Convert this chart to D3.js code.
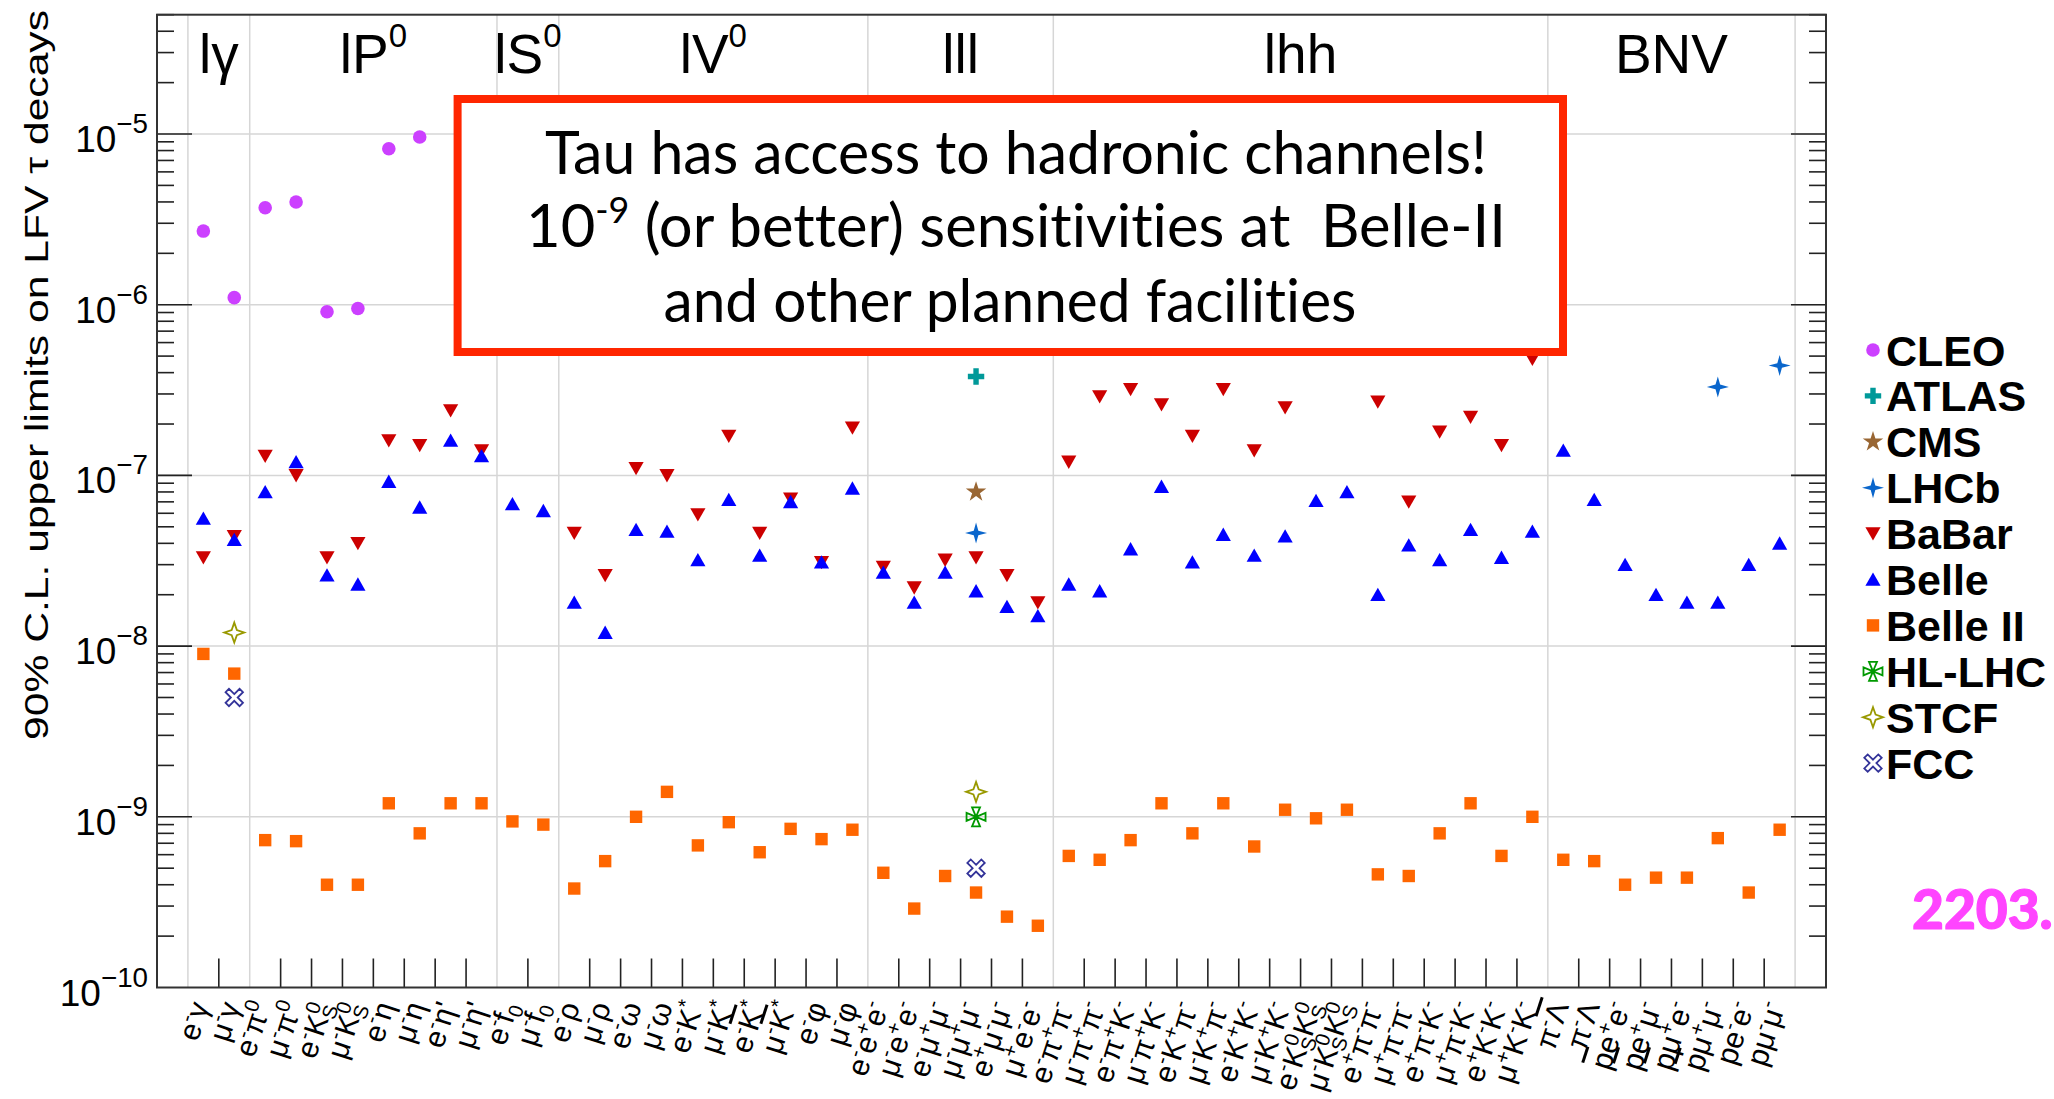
<!DOCTYPE html>
<html>
<head>
<meta charset="utf-8">
<script src="https://cdn.jsdelivr.net/npm/d3@7"></script>
<style>
  html, body { margin: 0; padding: 0; background: #fff; overflow: hidden; }
  svg { display: block; }
</style>
</head>
<body>
<svg id="chart" width="2054" height="1099"></svg>
<script>
// ---- Channels (x categories), written in a small TLatex-like markup ----
const channels = [
  "e^{-}γ", "μ^{-}γ",
  "e^{-}π^{0}", "μ^{-}π^{0}", "e^{-}K^{0}_{S}", "μ^{-}K^{0}_{S}", "e^{-}η", "μ^{-}η", "e^{-}η'", "μ^{-}η'",
  "e^{-}f_{0}", "μ^{-}f_{0}",
  "e^{-}ρ", "μ^{-}ρ", "e^{-}ω", "μ^{-}ω", "e^{-}K^{*}", "μ^{-}K^{*}", "e^{-}#bar{K}^{*}", "μ^{-}#bar{K}^{*}", "e^{-}φ", "μ^{-}φ",
  "e^{-}e^{+}e^{-}", "μ^{-}e^{+}e^{-}", "e^{-}μ^{+}μ^{-}", "μ^{-}μ^{+}μ^{-}", "e^{+}μ^{-}μ^{-}", "μ^{+}e^{-}e^{-}",
  "e^{-}π^{+}π^{-}", "μ^{-}π^{+}π^{-}", "e^{-}π^{+}K^{-}", "μ^{-}π^{+}K^{-}", "e^{-}K^{+}π^{-}", "μ^{-}K^{+}π^{-}",
  "e^{-}K^{+}K^{-}", "μ^{-}K^{+}K^{-}", "e^{-}K^{0}_{S}K^{0}_{S}", "μ^{-}K^{0}_{S}K^{0}_{S}",
  "e^{+}π^{-}π^{-}", "μ^{+}π^{-}π^{-}", "e^{+}π^{-}K^{-}", "μ^{+}π^{-}K^{-}", "e^{+}K^{-}K^{-}", "μ^{+}K^{-}K^{-}",
  "π^{-}#bar{Λ}", "π^{-}Λ", "#bar{p}e^{+}e^{-}", "#bar{p}e^{+}μ^{-}", "#bar{p}μ^{+}e^{-}", "#bar{p}μ^{+}μ^{-}",
  "pe^{-}e^{-}", "pμ^{-}μ^{-}"
];

// Channel groups, in order, with the number of channels in each
const groupNames  = ["lγ", "lP^{0}", "lS^{0}", "lV^{0}", "lll", "lhh", "BNV"];
const groupSizes  = [2, 8, 2, 10, 6, 16, 8];

// ---- 90% C.L. upper limits, one entry per channel (null = no result) ----
const cleo = [2.7e-6, 1.1e-6, 3.7e-6, 4.0e-6, 9.1e-7, 9.5e-7, 8.2e-6, 9.6e-6,
  null, null, null, null, null, null, null, null, null, null, null, null, null, null,
  null, null, null, null, null, null, null, null, null, null, null, null, null, null,
  null, null, null, null, null, null, null, null, null, null, null, null, null, null, null, null];

const babar = [3.3e-8, 4.4e-8, 1.3e-7, 1.0e-7, 3.3e-8, 4.0e-8, 1.6e-7, 1.5e-7, 2.4e-7, 1.4e-7,
  null, null,
  4.6e-8, 2.6e-8, 1.1e-7, 1.0e-7, 5.9e-8, 1.7e-7, 4.6e-8, 7.3e-8, 3.1e-8, 1.9e-7,
  2.9e-8, 2.2e-8, 3.2e-8, 3.3e-8, 2.6e-8, 1.8e-8,
  1.2e-7, 2.9e-7, 3.2e-7, 2.6e-7, 1.7e-7, 3.2e-7, 1.4e-7, 2.5e-7, null, null,
  2.7e-7, 7.0e-8, 1.8e-7, 2.2e-7, 1.5e-7, 4.8e-7,
  null, null, null, null, null, null, null, null];

const belle = [5.6e-8, 4.2e-8, 8.0e-8, 1.2e-7, 2.6e-8, 2.3e-8, 9.2e-8, 6.5e-8, 1.6e-7, 1.3e-7,
  6.8e-8, 6.2e-8,
  1.8e-8, 1.2e-8, 4.8e-8, 4.7e-8, 3.2e-8, 7.2e-8, 3.4e-8, 7.0e-8, 3.1e-8, 8.4e-8,
  2.7e-8, 1.8e-8, 2.7e-8, 2.1e-8, 1.7e-8, 1.5e-8,
  2.3e-8, 2.1e-8, 3.7e-8, 8.6e-8, 3.1e-8, 4.5e-8, 3.4e-8, 4.4e-8, 7.1e-8, 8.0e-8,
  2.0e-8, 3.9e-8, 3.2e-8, 4.8e-8, 3.3e-8, 4.7e-8,
  1.4e-7, 7.2e-8, 3.0e-8, 2.0e-8, 1.8e-8, 1.8e-8, 3.0e-8, 4.0e-8];

const belle2 = [9.0e-9, 6.9e-9, 7.3e-10, 7.2e-10, 4.0e-10, 4.0e-10, 1.2e-9, 8.0e-10, 1.2e-9, 1.2e-9,
  9.4e-10, 9.0e-10,
  3.8e-10, 5.5e-10, 1.0e-9, 1.4e-9, 6.8e-10, 9.3e-10, 6.2e-10, 8.5e-10, 7.4e-10, 8.4e-10,
  4.7e-10, 2.9e-10, 4.5e-10, 3.6e-10, 2.6e-10, 2.3e-10,
  5.9e-10, 5.6e-10, 7.3e-10, 1.2e-9, 8.0e-10, 1.2e-9, 6.7e-10, 1.1e-9, 9.8e-10, 1.1e-9,
  4.6e-10, 4.5e-10, 8.0e-10, 1.2e-9, 5.9e-10, 1.0e-9,
  5.6e-10, 5.5e-10, 4.0e-10, 4.4e-10, 4.4e-10, 7.5e-10, 3.6e-10, 8.4e-10];

// Sparse results: [channel, limit]
const atlas = [["μ^{-}μ^{+}μ^{-}", 3.8e-7]];
const cms   = [["μ^{-}μ^{+}μ^{-}", 8.0e-8]];
const lhcb  = [["μ^{-}μ^{+}μ^{-}", 4.6e-8], ["#bar{p}μ^{+}μ^{-}", 3.3e-7], ["pμ^{-}μ^{-}", 4.4e-7]];
const hllhc = [["μ^{-}μ^{+}μ^{-}", 1.0e-9]];
const stcf  = [["μ^{-}γ", 1.2e-8], ["μ^{-}μ^{+}μ^{-}", 1.4e-9]];
const fcc   = [["μ^{-}γ", 5.0e-9], ["μ^{-}μ^{+}μ^{-}", 5.0e-10]];

// Y axis decades with labels
const yDecades = [-10, -9, -8, -7, -6, -5];

// Legend entries (name, marker, colour)
const legendNames   = ["CLEO", "ATLAS", "CMS", "LHCb", "BaBar", "Belle", "Belle II", "HL-LHC", "STCF", "FCC"];
const legendMarkers = ["circle", "plus", "star5", "star4", "triDown", "triUp", "square", "fourTri", "openStar4", "openX"];
const legendColors  = ["#cc40ff", "#009999", "#996633", "#0a66cc", "#cc0000", "#0000ff", "#ff6600", "#009900", "#999900", "#333399"];

// Message box lines
const boxLines = ["Tau has access to hadronic channels!", "10^{-9} (or better) sensitivities at  Belle-II", "and other planned facilities"];

// ---------------------------------------------------------------------------
const svg = d3.select("#chart");
const frame = { left: 157, right: 1826, top: 14.7, bottom: 987.5 };
const rootFont = "'Liberation Sans', Arial, Helvetica, sans-serif";

const x = d3.scaleBand().domain(channels).range([frame.left, frame.right]).paddingInner(0).paddingOuter(1);
const bw = x.bandwidth();
const cx = ch => x(ch) + bw / 2;
const y = d3.scaleLog().domain([1e-10, 5e-5]).range([frame.bottom, frame.top]);

// ---- tiny rich-text renderer: ^{sup}, _{sub}, #bar{x} ----
function parseRich(s) {
  const segs = []; let buf = ""; let i = 0;
  const flush = () => { if (buf) { segs.push({ text: buf, mode: "n" }); buf = ""; } };
  while (i < s.length) {
    const c = s[i];
    if ((c === "^" || c === "_") && s[i + 1] === "{") {
      flush();
      const j = s.indexOf("}", i);
      segs.push({ text: s.slice(i + 2, j), mode: c === "^" ? "sup" : "sub" });
      i = j + 1;
    } else if (s.startsWith("#bar{", i)) {
      flush();
      const j = s.indexOf("}", i);
      segs.push({ text: s.slice(i + 5, j), mode: "n", bar: true });
      i = j + 1;
    } else { buf += c; i++; }
  }
  flush();
  return segs;
}
function richText(textSel, s, fs, opt = {}) {
  const supScale = opt.supScale || 0.65;
  const supRise = opt.supRise != null ? opt.supRise : 0.42 * fs;
  const subDrop = opt.subDrop != null ? opt.subDrop : 0.22 * fs;
  const segs = parseRich(s);
  let cur = 0;
  segs.forEach((g, k) => {
    const target = g.mode === "sup" ? -supRise : g.mode === "sub" ? subDrop : 0;
    const t = textSel.append("tspan")
      .text(g.text)
      .attr("dy", target - cur)
      .attr("font-size", g.mode === "n" ? fs : fs * supScale);
    if (g.bar) t.style("text-decoration", "overline");
    if (g.mode === "sub" && k > 0 && segs[k - 1].mode === "sup") {
      t.attr("dx", -segs[k - 1].text.length * fs * supScale * 0.56);
    }
    cur = target;
  });
}

// ---- marker shapes ----
function fourTriPath(r, h) {
  return `M0,0L${-h},${-r}L${h},${-r}Z M0,0L${r},${-h}L${r},${h}Z M0,0L${h},${r}L${-h},${r}Z M0,0L${-r},${h}L${-r},${-h}Z`;
}
const markerPaths = {
  circle: d3.symbol(d3.symbolCircle, 145)(),
  plus: "M-2.7,-8.2H2.7V-2.7H8.2V2.7H2.7V8.2H-2.7V2.7H-8.2V-2.7H-2.7Z",
  star5: d3.symbol(d3.symbolStar, 130)(),
  star4: "M0,-10.5L2.3,-2.3L11,0L2.3,2.3L0,10.5L-2.3,2.3L-11,0L-2.3,-2.3Z",
  triDown: "M0,7L7.6,-6.3L-7.6,-6.3Z",
  triUp: "M0,-7L7.6,6.3L-7.6,6.3Z",
  square: "M-6.2,-6.2H6.2V6.2H-6.2Z",
  fourTri: fourTriPath(9.5, 4),
  openStar4: "M0,-10L2.6,-2.6L10,0L2.6,2.6L0,10L-2.6,2.6L-10,0L-2.6,-2.6Z",
  openX: "M0,-3.4L5.3,-8.7L8.7,-5.3L3.4,0L8.7,5.3L5.3,8.7L0,3.4L-5.3,8.7L-8.7,5.3L-3.4,0L-8.7,-5.3L-5.3,-8.7Z"
};
const openMarkers = new Set(["fourTri", "openStar4", "openX"]);
function drawMarker(g, type, color, px, py) {
  const p = g.append("path").attr("d", markerPaths[type]).attr("transform", `translate(${px},${py})`);
  if (openMarkers.has(type)) p.attr("fill", "none").attr("stroke", color).attr("stroke-width", 1.8).attr("stroke-linejoin", "miter");
  else p.attr("fill", color);
  return p;
}

// ---- grid ----
const grid = svg.append("g").attr("stroke", "#d6d6d6").attr("stroke-width", 1.5);
yDecades.filter(d => d > -10).forEach(d => {
  grid.append("line").attr("x1", frame.left).attr("x2", frame.right)
    .attr("y1", y(Math.pow(10, d))).attr("y2", y(Math.pow(10, d)));
});
// group separators
const groupEdges = [];
let acc = 0;
groupEdges.push(acc);
groupSizes.forEach(n => { acc += n; groupEdges.push(acc); });
const edgeX = idx => idx < channels.length ? x(channels[idx]) : x(channels[channels.length - 1]) + bw;
groupEdges.forEach(idx => {
  grid.append("line").attr("x1", edgeX(idx)).attr("x2", edgeX(idx))
    .attr("y1", frame.top).attr("y2", frame.bottom);
});

// ---- x ticks at bin edges ----
const ticks = svg.append("g").attr("stroke", "#222").attr("stroke-width", 1.6);
for (let i = 0; i <= channels.length; i++) {
  if (groupEdges.includes(i)) continue;
  const xe = edgeX(i);
  ticks.append("line").attr("x1", xe).attr("x2", xe).attr("y1", frame.bottom).attr("y2", frame.bottom - 29);
}
// ---- y ticks on both sides ----
yDecades.forEach(d => {
  for (let k = 1; k <= 9; k++) {
    const v = k * Math.pow(10, d);
    if (v <= 1e-10 || v > 5e-5 * 1.0001) continue;
    const len = k === 1 ? 35 : 17;
    const yy = y(v);
    ticks.append("line").attr("x1", frame.left).attr("x2", frame.left + len).attr("y1", yy).attr("y2", yy);
    ticks.append("line").attr("x1", frame.right).attr("x2", frame.right - len).attr("y1", yy).attr("y2", yy);
  }
});

// ---- frame ----
svg.append("rect").attr("x", frame.left).attr("y", frame.top)
  .attr("width", frame.right - frame.left).attr("height", frame.bottom - frame.top)
  .attr("fill", "none").attr("stroke", "#333").attr("stroke-width", 2);

// ---- y tick labels ----
yDecades.forEach(d => {
  const t = svg.append("text").attr("x", 148).attr("y", y(Math.pow(10, d)) + 18)
    .attr("text-anchor", "end").attr("font-family", rootFont).attr("fill", "#000");
  richText(t, `10^{−${-d}}`, 37, { supScale: 0.75, supRise: 19 });
});

// ---- y axis title ----
svg.append("text")
  .attr("transform", `translate(48,375) rotate(-90)`)
  .attr("text-anchor", "middle")
  .attr("font-family", rootFont).attr("font-size", 33)
  .attr("textLength", 730).attr("lengthAdjust", "spacingAndGlyphs")
  .text("90% C.L. upper limits on LFV τ decays");

// ---- x category labels (rotated, right-adjusted) ----
const xl = svg.append("g").attr("font-family", rootFont).attr("fill", "#000");
channels.forEach(ch => {
  const t = xl.append("text")
    .attr("transform", `translate(${cx(ch) + 6},1006) rotate(-72)`)
    .attr("text-anchor", "end");
  richText(t, ch, 30, { supScale: 0.68, supRise: 11.5, subDrop: 6 });
});

// ---- group labels ----
let start = 0;
groupNames.forEach((name, gi) => {
  const a = edgeX(start), b = edgeX(start + groupSizes[gi]);
  const t = svg.append("text").attr("x", (a + b) / 2).attr("y", 73)
    .attr("text-anchor", "middle").attr("font-family", rootFont).attr("fill", "#000");
  richText(t, name, 55, { supScale: 0.6, supRise: 26 });
  start += groupSizes[gi];
});

// ---- data points ----
const pts = svg.append("g");
function drawDense(values, type, color) {
  values.forEach((v, i) => { if (v != null) drawMarker(pts, type, color, cx(channels[i]), y(v)); });
}
function drawSparse(pairs, type, color) {
  pairs.forEach(([ch, v]) => drawMarker(pts, type, color, cx(ch), y(v)));
}
const col = name => legendColors[legendNames.indexOf(name)];
const mk = name => legendMarkers[legendNames.indexOf(name)];
drawDense(cleo, mk("CLEO"), col("CLEO"));
drawDense(babar, mk("BaBar"), col("BaBar"));
drawDense(belle, mk("Belle"), col("Belle"));
drawDense(belle2, mk("Belle II"), col("Belle II"));
drawSparse(atlas, mk("ATLAS"), col("ATLAS"));
drawSparse(cms, mk("CMS"), col("CMS"));
drawSparse(lhcb, mk("LHCb"), col("LHCb"));
drawSparse(hllhc, mk("HL-LHC"), col("HL-LHC"));
drawSparse(stcf, mk("STCF"), col("STCF"));
drawSparse(fcc, mk("FCC"), col("FCC"));

// ---- legend ----
const lg = svg.append("g");
legendNames.forEach((name, i) => {
  const yc = 350 + 45.9 * i;
  drawMarker(lg, legendMarkers[i], legendColors[i], 1873, yc);
  lg.append("text").attr("x", 1886).attr("y", yc + 15.5)
    .attr("font-family", rootFont).attr("font-weight", "bold").attr("font-size", 43)
    .attr("fill", "#000").text(name);
});

// ---- message box ----
const boxFont = "Lato, 'Open Sans', sans-serif";
svg.append("rect").attr("x", 457.6).attr("y", 99).attr("width", 1105.4).attr("height", 253)
  .attr("fill", "#fff").attr("stroke", "#ff2600").attr("stroke-width", 8);
const lineY = [174, 247, 322];
const lineCx = [1016, 1016, 1010];
const lineW = [942, 980, 693];
boxLines.forEach((s, i) => {
  const t = svg.append("text").attr("x", lineCx[i]).attr("y", lineY[i])
    .attr("text-anchor", "middle").attr("font-family", boxFont).attr("fill", "#000")
    .style("white-space", "pre").style("font-variant-ligatures", "none")
    .attr("textLength", lineW[i]).attr("lengthAdjust", "spacingAndGlyphs");
  richText(t, s, 60, { supScale: 0.6, supRise: 24 });
});

// ---- reference tag ----
svg.append("text").attr("x", 1912).attr("y", 929)
  .attr("font-family", boxFont).attr("font-weight", 900).attr("font-size", 55)
  .attr("fill", "#ff44ff").attr("stroke", "#ff44ff").attr("stroke-width", 1.2)
  .text("2203.");
</script>
</body>
</html>
